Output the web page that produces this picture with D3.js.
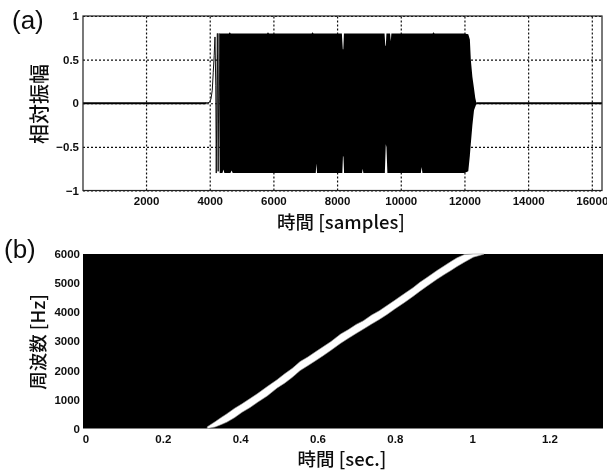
<!DOCTYPE html>
<html>
<head>
<meta charset="utf-8">
<script src="https://cdn.jsdelivr.net/npm/d3@7/dist/d3.min.js"></script>
<style>
html, body { margin: 0; padding: 0; background: #fff; }
svg { display: block; }
text { fill: #111; }
.tick-text { font-family: "Liberation Sans", sans-serif; font-size: 11.5px; font-weight: bold; }
.label { font-family: "Noto Sans CJK JP", sans-serif; font-size: 18.5px; font-weight: 500; }
.panel { font-family: "Liberation Sans", sans-serif; font-size: 26px; }
</style>
</head>
<body>
<div id="chart"></div>
<script>
//tick labels
var waveXTicks = [2000, 4000, 6000, 8000, 10000, 12000, 14000, 16000];
var waveYTicks = [-1, -0.5, 0, 0.5, 1];
var specXTicks = [0, 0.2, 0.4, 0.6, 0.8, 1, 1.2];
var specYTicks = [0, 1000, 2000, 3000, 4000, 5000, 6000];

//waveform: quiet parts at both ends
var quietT = [20, 3900, 12370, 16320];
var quietUp = [0.012, 0.012, 0.012, 0.012];
var quietLo = [-0.012, -0.012, -0.012, -0.012];

//waveform: onset trace, read stroke by stroke
var riseT = [3850, 3990, 4040, 4080, 4110, 4140, 4165, 4190, 4205, 4240, 4265, 4295, 4330];
var riseV = [0, 0.01, 0.05, 0.15, 0.35, 0.55, 0.76, 0.2, -0.8, 0.8, -0.78, 0.8, -0.8];

//waveform: upper envelope of the burst
var upT = [4320, 4600, 4630, 4660, 5800, 5830, 5860, 7200, 7230, 7260, 8150, 8180, 8195, 8215, 9490, 9515, 9530, 9550, 9665, 9685, 9705, 11000, 11030, 11060, 12000, 12120, 12170, 12200, 12250, 12300, 12340, 12370];
var upV = [0.8, 0.8, 0.815, 0.8, 0.8, 0.815, 0.8, 0.8, 0.815, 0.8, 0.8, 0.62, 0.62, 0.8, 0.8, 0.66, 0.66, 0.8, 0.8, 0.71, 0.8, 0.8, 0.815, 0.8, 0.8, 0.79, 0.73, 0.5, 0.3, 0.17, 0.06, 0.012];

//waveform: lower envelope of the burst
var loT = [4320, 4400, 4430, 4460, 4650, 4690, 4720, 7330, 7350, 7370, 8165, 8185, 8200, 8220, 8785, 8805, 8825, 9500, 9530, 9550, 9580, 10630, 10655, 10680, 12000, 12120, 12170, 12200, 12250, 12300, 12370];
var loV = [-0.8, -0.8, -0.76, -0.8, -0.8, -0.77, -0.8, -0.8, -0.69, -0.8, -0.8, -0.6, -0.62, -0.8, -0.8, -0.75, -0.8, -0.8, -0.47, -0.5, -0.8, -0.8, -0.73, -0.8, -0.8, -0.78, -0.6, -0.46, -0.25, -0.08, -0.012];

//spectrogram ridge: time, lower and upper edge of the white band
var ridgeT = [0.315, 0.335, 0.35, 0.366, 0.385, 0.405, 0.4256, 0.445, 0.47, 0.4955, 0.515, 0.535, 0.555, 0.575, 0.595, 0.6145, 0.635, 0.66, 0.68, 0.70, 0.718, 0.74, 0.76, 0.78, 0.80, 0.825, 0.847, 0.865, 0.885, 0.909, 0.93, 0.945, 0.961, 0.98, 1.003, 1.03];
var ridgeLo = [0, 50, 130, 220, 370, 560, 720, 900, 1120, 1390, 1560, 1760, 1990, 2160, 2330, 2500, 2690, 2930, 3100, 3270, 3410, 3590, 3750, 3920, 4110, 4330, 4540, 4720, 4910, 5130, 5310, 5430, 5570, 5720, 5890, 5990];
var ridgeHi = [60, 230, 370, 510, 690, 850, 1030, 1200, 1440, 1680, 1880, 2070, 2300, 2460, 2640, 2810, 2990, 3250, 3400, 3580, 3700, 3900, 4050, 4230, 4410, 4640, 4840, 5030, 5210, 5430, 5610, 5740, 5870, 5980, 6000, 6000];

var svg = d3.select('#chart').append('svg')
    .attr('width', 607)
    .attr('height', 473);

//the reference is a soft print scan
var blur = svg.append('defs').append('filter')
    .attr('id', 'soft')
    .attr('x', '-5%').attr('y', '-5%').attr('width', '110%').attr('height', '110%');
blur.append('feGaussianBlur').attr('stdDeviation', 0.45);

var page = svg.append('g').attr('filter', 'url(#soft)');

function styleTicks(sel) {
	sel.selectAll('.tick text').attr('class', 'tick-text');
	sel.select('.domain').remove();
}

//PANEL A
var xWave = d3.scaleLinear().domain([20, 16320]).range([83, 602]);
var yWave = d3.scaleLinear().domain([-1, 1]).range([190.5, 16]);

page.append('rect')
    .attr('x', 83).attr('y', 16)
    .attr('width', 519).attr('height', 174.5)
    .attr('fill', '#fff');

//dotted grid comes from the axes' long ticks
var axisWaveX = page.append('g')
    .attr('transform', 'translate(0,190.5)')
    .call(d3.axisBottom(xWave).tickValues(waveXTicks).tickSize(-174.5).tickPadding(6).tickFormat(d3.format('d')));
styleTicks(axisWaveX);

var axisWaveY = page.append('g')
    .attr('transform', 'translate(83,0)')
    .call(d3.axisLeft(yWave).tickValues(waveYTicks).tickSize(-519).tickPadding(4).tickFormat(function(d) { return d < 0 ? '\u2212' + Math.abs(d) : d; }));
styleTicks(axisWaveY);

page.selectAll('.tick line')
    .attr('stroke', '#111')
    .attr('stroke-width', 1.2)
    .attr('stroke-dasharray', '2,2');

var quietArea = d3.area()
    .x(function(d) { return xWave(quietT[d]); })
    .y0(function(d) { return yWave(quietLo[d]); })
    .y1(function(d) { return yWave(quietUp[d]); });

page.append('path')
    .attr('d', quietArea(d3.range(2)))
    .attr('fill', '#000');
page.append('path')
    .attr('d', quietArea([2, 3]))
    .attr('fill', '#000');

page.append('path')
    .attr('d', d3.line()
        .x(function(d, i) { return xWave(riseT[i]); })
        .y(function(d) { return yWave(d); })(riseV))
    .attr('fill', 'none')
    .attr('stroke', '#111')
    .attr('stroke-width', 1);

//burst outline: upper edge forward, lower edge back
var burst = upT.map(function(t, i) { return [xWave(t), yWave(upV[i])]; })
    .concat(loT.map(function(t, i) { return [xWave(t), yWave(loV[i])]; }).reverse());

page.append('path')
    .attr('d', d3.line()(burst) + 'Z')
    .attr('fill', '#000');

page.append('rect')
    .attr('x', 83).attr('y', 16)
    .attr('width', 519).attr('height', 174.5)
    .attr('fill', 'none')
    .attr('stroke', '#222')
    .attr('stroke-width', 1.2);

//PANEL B
var xSpec = d3.scaleLinear().domain([-0.0065, 1.3385]).range([83, 603]);
var ySpec = d3.scaleLinear().domain([0, 6000]).range([428.5, 254]);

page.append('rect')
    .attr('x', 83).attr('y', 254)
    .attr('width', 520).attr('height', 174.5)
    .attr('fill', '#000');

page.append('path')
    .attr('d', d3.area()
        .x(function(d, i) { return xSpec(ridgeT[i]); })
        .y0(function(d) { return ySpec(d); })
        .y1(function(d, i) { return ySpec(ridgeHi[i]); })(ridgeLo))
    .attr('fill', '#fff')
    .attr('stroke', '#999')
    .attr('stroke-width', 0.6);

var axisSpecX = page.append('g')
    .attr('transform', 'translate(0,428.5)')
    .call(d3.axisBottom(xSpec).tickValues(specXTicks).tickSize(0).tickPadding(6).tickFormat(function(d) { return d; }));
styleTicks(axisSpecX);

var axisSpecY = page.append('g')
    .attr('transform', 'translate(83,0)')
    .call(d3.axisLeft(ySpec).tickValues(specYTicks).tickSize(0).tickPadding(3).tickFormat(d3.format('d')));
styleTicks(axisSpecY);

//LABELS
page.append('text').attr('class', 'panel').attr('x', 12).attr('y', 29).text('(a)');
page.append('text').attr('class', 'panel').attr('x', 4).attr('y', 258).text('(b)');

page.append('text').attr('class', 'label')
    .attr('x', 341).attr('y', 229).attr('text-anchor', 'middle')
    .text('時間 [samples]');
page.append('text').attr('class', 'label')
    .attr('x', 342).attr('y', 466).attr('text-anchor', 'middle')
    .text('時間 [sec.]');
page.append('text').attr('class', 'label')
    .attr('transform', 'translate(47,104) rotate(-90)').attr('text-anchor', 'middle')
    .style('font-size', '20px')
    .text('相対振幅');
page.append('text').attr('class', 'label')
    .attr('transform', 'translate(45,342) rotate(-90)').attr('text-anchor', 'middle')
    .text('周波数 [Hz]');
</script>
</body>
</html>
